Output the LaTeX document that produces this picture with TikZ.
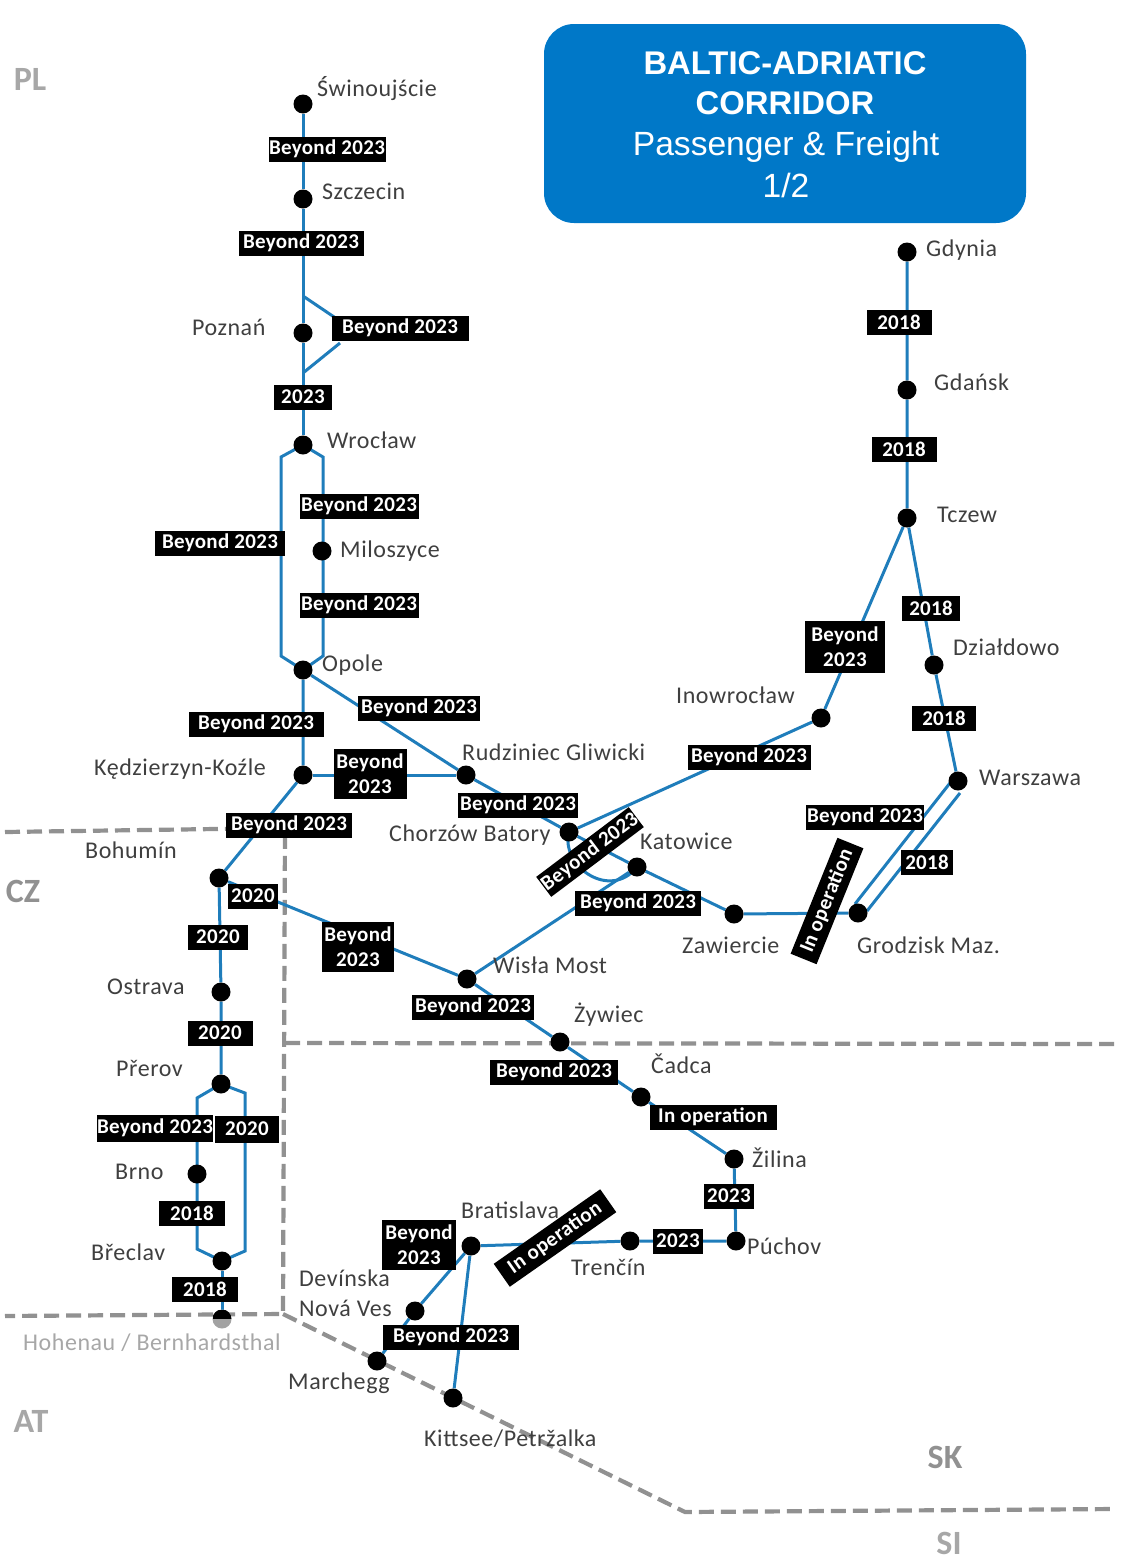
\documentclass[tikz,border=0pt]{standalone}
\usepackage{fontspec}
\setmainfont{Carlito}
\newfontfamily\titlefont{Liberation Sans}
\newfontfamily\placefont[LetterSpace=2.3]{Carlito}
\newfontfamily\yearfont[LetterSpace=1.5]{Carlito}
\usetikzlibrary{backgrounds,calc}
\pgfdeclarelayer{borders}
\pgfdeclarelayer{rails}
\pgfsetlayers{borders,rails,main}
\definecolor{railblue}{HTML}{1F7DBB}
\definecolor{boxblue}{HTML}{0078C8}
\definecolor{inkgrey}{HTML}{3F3F3F}
\definecolor{borderg}{HTML}{919191}
\tikzset{
  x=1pt,y=-1pt,
  station/.style={circle,fill=black,minimum size=19pt,inner sep=0pt},
  place/.style={anchor=west,inner sep=0pt,text=inkgrey,font=\placefont\fontsize{24}{30}\selectfont,align=left},
  year/.style={fill=black,text=white,font=\yearfont\bfseries\fontsize{21}{25}\selectfont,align=center,
    inner sep=0pt,minimum height=25pt},
  country/.style={inner sep=0pt,font=\bfseries\fontsize{34}{36}\selectfont},
  rail/.style={draw=railblue,line width=3pt},
  border/.style={draw=borderg,line width=4.2pt,dash pattern=on 15pt off 7pt},
  headbox/.style={fill=boxblue,rounded corners=30pt,inner sep=0pt,text=white,align=center,
    minimum width=482pt,minimum height=199pt},
  headbold/.style={inner sep=0pt,text=white,font=\titlefont\bfseries\fontsize{32.8}{41}\selectfont},
  headthin/.style={inner sep=0pt,text=white,font=\titlefont\fontsize{33.6}{41}\selectfont}
}
\begin{document}
\begin{tikzpicture}
\useasboundingbox (0,-1) rectangle (1129,1560);

% Corridor stations
\foreach \nm/\px/\py in {
  swin/303/103,szcz/303/198,pozn/303/332,wroc/303/444,milo/322/550,opol/303/669,
  kedz/303/774,rudz/466/774,chor/569/831,kato/637/866,zawi/734/913,grod/858/912,
  wars/958/780,dzia/934/664,tcze/907/517,gdan/907/389,gdyn/907/251,inow/821/717,
  bohu/219/877,ostr/221/991,prer/221/1083,brno/197/1173,brec/222/1260,
  wisl/467/978,zywi/560/1041,cadc/641/1096,zili/734/1158,puch/736/1240,tren/630/1240,
  brat/471/1245,devi/415/1310,marc/377/1360,kitt/453/1397}
  {\node[station] (\nm) at (\px,\py) {};}
\node[station,fill=borderg!85,path picture={\fill[black] (path picture bounding box.north west) rectangle (path picture bounding box.east);}] (hohe) at (222,1318) {};

% Bends of the parallel routes
\coordinate (pa) at (303,295); \coordinate (pb) at (340,320);
\coordinate (pc) at (340,342); \coordinate (pd) at (303,372);
\coordinate (wl) at (281,456); \coordinate (ol) at (281,655);
\coordinate (wr) at (323,456); \coordinate (or) at (323,655);
\coordinate (pl) at (197,1097); \coordinate (bl) at (197,1248);
\coordinate (pr) at (245,1092); \coordinate (br) at (245,1250);

% State borders
\coordinate (b1) at (5,831); \coordinate (b2) at (285,827); \coordinate (b3) at (283,1313);
\coordinate (b4) at (5,1315); \coordinate (b5) at (285,1042); \coordinate (b6) at (1118,1043);
\coordinate (b7) at (685,1511); \coordinate (b8) at (1115,1508);
\begin{pgfonlayer}{borders}
  \path[border] (b1) -- (b2) -- (b3) -- (b4);
  \path[border] (b5) -- (b6);
  \path[border] (b3) -- (b7) -- (b8);
\end{pgfonlayer}

% Railway lines
\begin{pgfonlayer}{rails}
  \path[rail] (swin) -- (szcz) -- (pozn) -- (wroc);
  \path[rail] (pa) -- (pb) (pc) -- (pd);
  \path[rail] (wroc.center) -- (wl) -- (ol) -- (opol.center);
  \path[rail] (wroc.center) -- (wr) -- (or) -- (opol.center);
  \path[rail] (opol) -- (kedz) -- (bohu) -- (ostr) -- (prer);
  \path[rail] (kedz) -- (rudz);
  \path[rail] (opol) -- (rudz) -- (chor) -- (kato) -- (zawi) -- (grod);
  \path[rail] (chor) -- (inow) -- (tcze);
  \path[rail] (gdyn) -- (gdan) -- (tcze) -- (dzia) -- (wars);
  \path[rail] ($(wars)+(-8,2)$) -- ($(grod)+(-3,-9)$);
  \path[rail] ($(wars)+(2,12)$) -- ($(grod)+(9,-2)$);
  \path[rail] (chor.center) .. controls (560,865) and (610,900) .. (kato.center);
  \path[rail] (kato) -- (wisl) -- (bohu);
  \path[rail] (wisl) -- (zywi) -- (cadc) -- (zili) -- (puch) -- (tren) -- (brat);
  \path[rail] (brat) -- (devi) -- (marc);
  \path[rail] (brat) -- (kitt);
  \path[rail] (prer.center) -- (pl) -- (bl) -- (brec.center);
  \path[rail] (prer.center) -- (pr) -- (br) -- (brec.center);
  \path[rail] (brec) -- (hohe.center);
\end{pgfonlayer}

% Completion dates
\node[year,minimum width=117pt] (y01) at (327,148) {Beyond 2023};
\node[year,minimum width=125pt] (y02) at (301,242) {Beyond 2023};
\node[year,minimum width=137pt] (y03) at (400,327) {Beyond 2023};
\node[year,minimum width=58pt] (y04) at (303,396) {2023};
\node[year,minimum width=119pt] (y05) at (359,505) {Beyond 2023};
\node[year,minimum width=130pt] (y06) at (220,542) {Beyond 2023};
\node[year,minimum width=119pt] (y07) at (359,604) {Beyond 2023};
\node[year,minimum width=135pt] (y08) at (256,723) {Beyond 2023};
\node[year,minimum width=122pt] (y09) at (419,707) {Beyond 2023};
\node[year,minimum width=73pt,minimum height=50pt] (y10) at (370,773) {Beyond\\2023};
\node[year,minimum width=126pt] (y11) at (289,824) {Beyond 2023};
\node[year,minimum width=120pt] (y12) at (518,804) {Beyond 2023};
\node[year,minimum width=50pt] (y13) at (253,895) {2020};
\node[year,minimum width=60pt] (y14) at (218,936) {2020};
\node[year,minimum width=72pt,minimum height=50pt] (y15) at (358,946) {Beyond\\2023};
\node[year,minimum width=65pt] (y16) at (220,1032) {2020};
\node[year,minimum width=115pt,rotate=37] (y17) at (590,851) {Beyond 2023};
\node[year,minimum width=126pt] (y18) at (638,902) {Beyond 2023};
\node[year,minimum width=122pt] (y19) at (473,1006) {Beyond 2023};
\node[year,minimum width=128pt] (y20) at (554,1071) {Beyond 2023};
\node[year,minimum width=123pt] (y21) at (749,756) {Beyond 2023};
\node[year,minimum width=80pt,minimum height=52pt] (y22) at (845,646) {Beyond\\2023};
\node[year,minimum width=58pt] (y23) at (931,607) {2018};
\node[year,minimum width=64pt] (y24) at (944,717) {2018};
\node[year,minimum width=118pt] (y25) at (865,816) {Beyond 2023};
\node[year,minimum width=52pt] (y26) at (927,861) {2018};
\node[year,minimum width=125pt,minimum height=28pt,rotate=68] (y27) at (827,900) {In operation};
\node[year,minimum width=65pt] (y28) at (899,321) {2018};
\node[year,minimum width=65pt] (y29) at (904,448) {2018};
\node[year,minimum width=127pt] (y30) at (713,1116) {In operation};
\node[year,minimum width=50pt] (y31) at (729,1195) {2023};
\node[year,minimum width=50pt] (y32) at (678,1240) {2023};
\node[year,minimum width=130pt,minimum height=28pt,rotate=35] (y33) at (555,1237) {In operation};
\node[year,minimum width=74pt,minimum height=50pt] (y34) at (419,1244) {Beyond\\2023};
\node[year,minimum width=136pt] (y35) at (451,1336) {Beyond 2023};
\node[year,minimum width=115pt,minimum height=27pt] (y36) at (155,1127) {Beyond 2023};
\node[year,minimum width=64pt,minimum height=27pt] (y37) at (247,1128) {2020};
\node[year,minimum width=66pt] (y38) at (192,1212) {2018};
\node[year,minimum width=66pt] (y39) at (205,1288) {2018};

% Station names
\foreach \nm/\px/\py/\tx in {
  swin/317/88/Świnoujście, szcz/322/190/Szczecin, pozn/192/326/Poznań, wroc/327/439/Wrocław,
  milo/340/550/Miloszyce, opol/322/664/Opole, inow/676/694/Inowrocław, gdyn/926/249/Gdynia,
  gdan/934/381/Gdańsk, tcze/937/514/Tczew, dzia/953/646/Działdowo, wars/979/777/Warszawa,
  rudz/462/751/Rudziniec Gliwicki, kedz/94/768/Kędzierzyn-Koźle, bohu/85/849/Bohumín,
  chor/389/834/Chorzów Batory, kato/640/840/Katowice, zawi/682/944/Zawiercie,
  grod/857/944/Grodzisk Maz., wisl/493/964/Wisła Most, zywi/574/1014/Żywiec,
  cadc/651/1063/Čadca, zili/752/1157/Žilina, puch/747/1245/Púchov, tren/571/1266/Trenčín,
  brat/461/1209/Bratislava, marc/288/1382/Marchegg,
  ostr/107/986/Ostrava, prer/116/1067/Přerov, brno/115/1171/Brno, brec/91/1251/Břeclav}
  {\node[place] (n-\nm) at (\px,\py) {\tx};}
\node[place] (n-kitt) at (424,1438) {Kittsee/Petržalka};
\node[place] (n-devi) at (299,1292) {Devínska\\[-0.2pt]Nová Ves};
\node[place,text=borderg!80] (n-hohe) at (23,1342) {Hohenau / Bernhardsthal};

% Country codes
\node[country,text=borderg!80] (c-pl) at (30,78) {PL};
\node[country,text=borderg] (c-cz) at (23,890) {CZ};
\node[country,text=borderg!80] (c-at) at (31,1420) {AT};
\node[country,text=borderg] (c-sk) at (945,1456) {SK};
\node[country,text=borderg!80] (c-si) at (949,1542) {SI};

% Corridor heading
\node[headbox] (head) at (785,122.5) {};
\node[headbold] (h1) at (785,62) {BALTIC-ADRIATIC};
\node[headbold] (h2) at (785,102) {CORRIDOR};
\node[headthin] (h3) at (786,146) {Passenger \& Freight};
\node[headthin] (h4) at (786,184) {1/2};
\end{tikzpicture}
\end{document}
